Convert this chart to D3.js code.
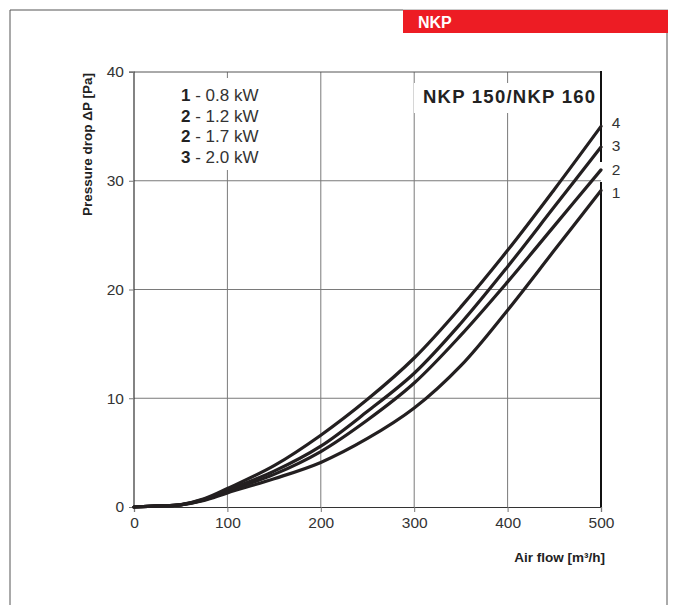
<!DOCTYPE html>
<html><head><meta charset="utf-8">
<script src="https://cdn.jsdelivr.net/npm/d3@7"></script>
<style>
html,body{margin:0;padding:0;background:#fff;}
svg{display:block;font-family:"Liberation Sans",Arial,sans-serif;}
</style></head>
<body>
<svg id="c" width="673" height="605"></svg>
<script>
// ---- data ----
const airFlow = [0, 25, 50, 75, 100, 150, 200, 250, 300, 350, 400, 450, 500];
const curve1 = [0, 0.1, 0.2, 0.6, 1.3, 2.6, 4.1, 6.3, 9.1, 13.0, 18.1, 23.6, 29.1];
const curve2 = [0, 0.1, 0.2, 0.65, 1.45, 3.0, 5.1, 8.0, 11.4, 15.8, 20.7, 25.85, 31.0];
const curve3 = [0, 0.1, 0.2, 0.7, 1.55, 3.3, 5.6, 8.8, 12.3, 16.9, 22.1, 27.6, 33.1];
const curve4 = [0, 0.1, 0.22, 0.75, 1.7, 3.8, 6.6, 9.9, 13.7, 18.4, 23.6, 29.2, 35.0];
const seriesValues = [curve1, curve2, curve3, curve4];
const curveLabels = ["1", "2", "3", "4"];
const labelOffsets = [2.5, 0, -1, -3];
const xTicks = [0, 100, 200, 300, 400, 500];
const yTicks = [0, 10, 20, 30, 40];
const legendNums = ["1", "2", "2", "3"];
const legendTexts = [" - 0.8 kW", " - 1.2 kW", " - 1.7 kW", " - 2.0 kW"];
const title = "NKP 150/NKP 160";
const headerText = "NKP";
const yLabel = "Pressure drop \u0394P [Pa]";
const xLabel = "Air flow [m\u00B3/h]";

const svg = d3.select("#c");
const L = 134, R = 601, T = 72, B = 507;
const x = d3.scaleLinear().domain([0, 500]).range([L, R]);
const y = d3.scaleLinear().domain([0, 40]).range([B, T]);

// outer frame
svg.append("path").attr("d", "M10,605 L10,10 L403,10").attr("fill", "none").attr("stroke", "#555").attr("stroke-width", 1);
svg.append("line").attr("x1", 667).attr("x2", 667).attr("y1", 33).attr("y2", 605).attr("stroke", "#555").attr("stroke-width", 1);
svg.append("line").attr("x1", 403).attr("x2", 668).attr("y1", 9.5).attr("y2", 9.5).attr("stroke", "#ccc").attr("stroke-width", 1);
svg.append("rect").attr("x", 403).attr("y", 10).attr("width", 265).attr("height", 23).attr("fill", "#ED1C24");
svg.append("text").attr("x", 418).attr("y", 28).attr("fill", "#fff").attr("font-weight", "bold").attr("font-size", 16).text(headerText);

// grid
const g = svg.append("g");
g.selectAll(".vg").data(xTicks.filter(d => d > 0 && d < 500)).join("line")
  .attr("x1", d => x(d)).attr("x2", d => x(d)).attr("y1", T).attr("y2", B)
  .attr("stroke", "#7a7a7a").attr("stroke-width", 1);
g.selectAll(".hg").data(yTicks.filter(d => d > 0 && d < 40)).join("line")
  .attr("x1", L).attr("x2", R).attr("y1", d => y(d)).attr("y2", d => y(d))
  .attr("stroke", "#7a7a7a").attr("stroke-width", 1);
g.append("line").attr("x1", L).attr("x2", R).attr("y1", T).attr("y2", T).attr("stroke", "#555").attr("stroke-width", 1);

// axes
const xAxis = d3.axisBottom(x).tickValues(xTicks).tickSize(5).tickPadding(5).tickFormat(d3.format("d"));
const yAxis = d3.axisLeft(y).tickValues(yTicks).tickSize(5).tickPadding(5).tickFormat(d3.format("d"));
const gx = svg.append("g").attr("transform", `translate(0,${B})`).call(xAxis);
const gy = svg.append("g").attr("transform", `translate(${L},0)`).call(yAxis);
[gx, gy].forEach(a => {
  a.select(".domain").attr("stroke", "#333").attr("stroke-width", 1.2);
  a.selectAll(".tick line").attr("stroke", "#777");
  a.selectAll(".tick text").attr("fill", "#333").attr("font-size", 15.5).attr("font-family", "Liberation Sans, Arial, sans-serif");
});
gy.select(".domain").attr("d", `M-5,${T}H0V${B}`);

// legend / title white boxes (cover grid)
svg.append("rect").attr("x", 150).attr("y", 78).attr("width", 140).attr("height", 92).attr("fill", "#fff");
svg.append("rect").attr("x", 414).attr("y", 83).attr("width", 186).attr("height", 30).attr("fill", "#fff");

// legend
const leg = svg.append("g");
legendNums.forEach((n, i) => {
  const t = leg.append("text").attr("x", 181).attr("y", 101 + i * 20.7).attr("font-size", 17).attr("fill", "#333");
  t.append("tspan").attr("font-weight", "bold").attr("fill", "#222").text(n);
  t.append("tspan").text(legendTexts[i]);
});
svg.append("text").attr("x", 423).attr("y", 103).attr("font-weight", "bold").attr("font-size", 18.5)
  .attr("fill", "#222").attr("textLength", 172).attr("lengthAdjust", "spacing").text(title);

// right border (thick) with gap
svg.append("line").attr("x1", R).attr("x2", R).attr("y1", T - 1).attr("y2", 162).attr("stroke", "#111").attr("stroke-width", 2);
svg.append("line").attr("x1", R).attr("x2", R).attr("y1", 182).attr("y2", B).attr("stroke", "#111").attr("stroke-width", 2);

// curves
const line = d3.line().x((d, i) => x(airFlow[i])).y(d => y(d)).curve(d3.curveCatmullRom.alpha(0.5));
svg.append("g").selectAll("path").data(seriesValues).join("path")
  .attr("d", d => line(d)).attr("fill", "none").attr("stroke", "#231f20").attr("stroke-width", 3.2)
  .attr("stroke-linecap", "round");

// curve labels
svg.append("g").selectAll("text").data(seriesValues).join("text")
  .attr("x", x(500) + 15).attr("y", (d, i) => y(d[d.length - 1]) + labelOffsets[i] + 5)
  .attr("text-anchor", "middle").attr("font-size", 15.5).attr("fill", "#333")
  .text((d, i) => curveLabels[i]);

// axis labels
svg.append("text").attr("transform", "translate(92,73) rotate(-90)").attr("text-anchor", "end")
  .attr("font-weight", "bold").attr("font-size", 13.5).attr("fill", "#222").text(yLabel);
svg.append("text").attr("x", 605).attr("y", 562).attr("text-anchor", "end")
  .attr("font-weight", "bold").attr("font-size", 13.5).attr("fill", "#222")
  .attr("font-family", "Liberation Sans Narrow, Liberation Sans, Arial, sans-serif").text(xLabel);
</script>
</body></html>
